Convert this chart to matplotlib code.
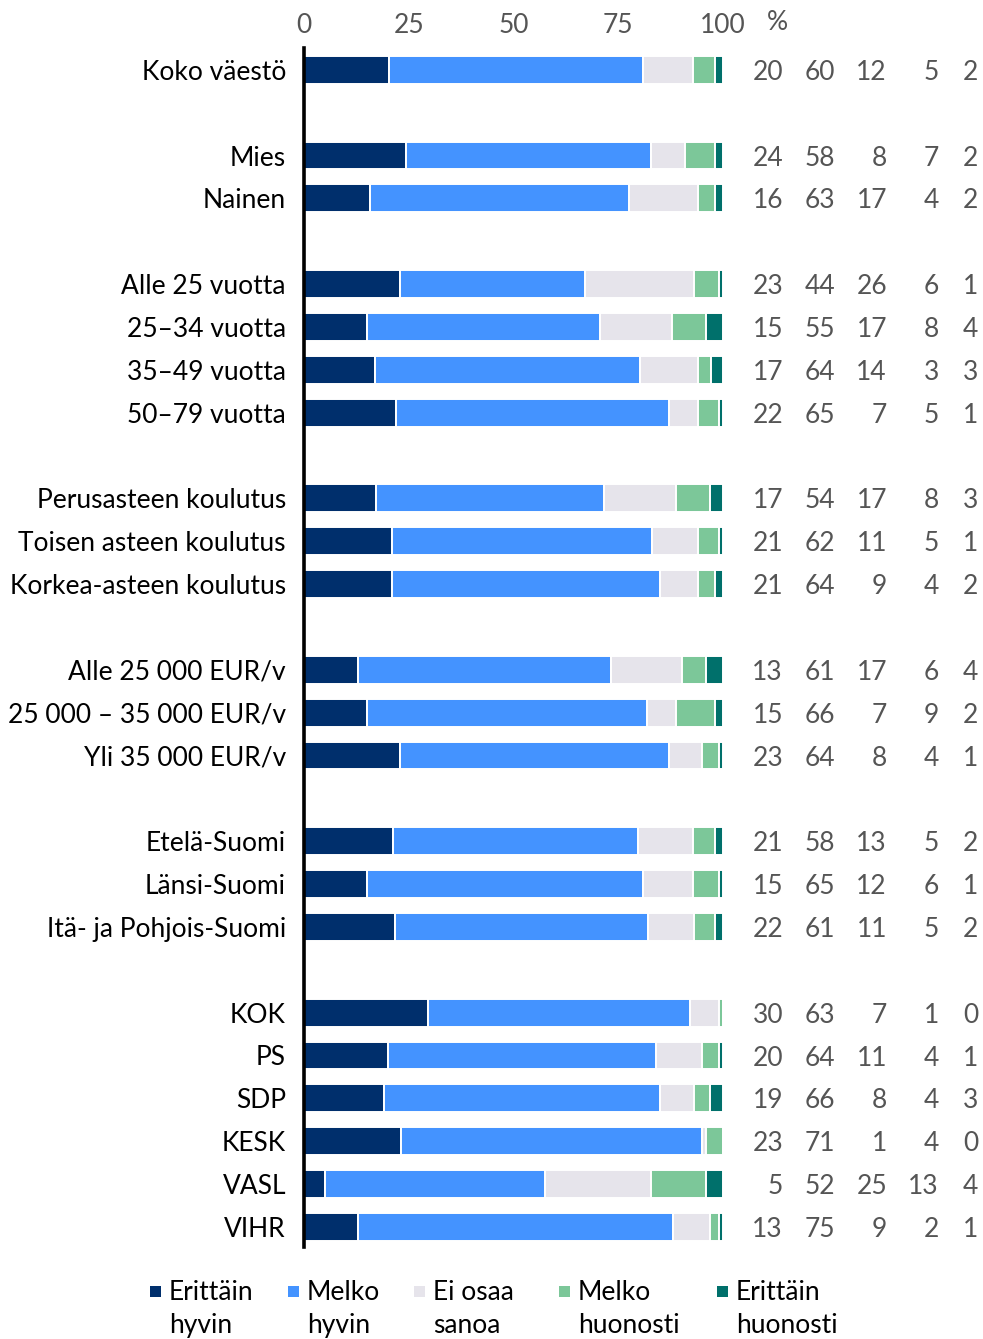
import matplotlib
matplotlib.use("Agg")
import matplotlib.pyplot as plt
from matplotlib.patches import Rectangle
from matplotlib.transforms import blended_transform_factory
import numpy as np

plt.rcParams['font.family'] = ['Lato', 'DejaVu Sans']

# groups of rows, None = empty spacer row
categories = ["Koko väestö", None,
              "Mies", "Nainen", None,
              "Alle 25 vuotta", "25–34 vuotta", "35–49 vuotta", "50–79 vuotta", None,
              "Perusasteen koulutus", "Toisen asteen koulutus", "Korkea-asteen koulutus", None,
              "Alle 25 000 EUR/v", "25 000 – 35 000 EUR/v", "Yli 35 000 EUR/v", None,
              "Etelä-Suomi", "Länsi-Suomi", "Itä- ja Pohjois-Suomi", None,
              "KOK", "PS", "SDP", "KESK", "VASL", "VIHR"]

erittain_hyvin = [20, 24, 16, 23, 15, 17, 22, 17, 21, 21, 13, 15, 23, 21, 15, 22, 30, 20, 19, 23, 5, 13]
melko_hyvin    = [60, 58, 63, 44, 55, 64, 65, 54, 62, 64, 61, 66, 64, 58, 65, 61, 63, 64, 66, 71, 52, 75]
ei_osaa        = [12, 8, 17, 26, 17, 14, 7, 17, 11, 9, 17, 7, 8, 13, 12, 11, 7, 11, 8, 1, 25, 9]
melko_huonosti = [5, 7, 4, 6, 8, 3, 5, 8, 5, 4, 6, 9, 4, 5, 6, 5, 1, 4, 4, 4, 13, 2]
erittain_huon  = [2, 2, 2, 1, 4, 3, 1, 3, 1, 2, 4, 2, 1, 2, 1, 2, 0, 1, 3, 0, 4, 1]

series_labels = ["Erittäin\nhyvin", "Melko\nhyvin", "Ei osaa\nsanoa", "Melko\nhuonosti", "Erittäin\nhuonosti"]
colors = ["#002F6C", "#4493FF", "#E6E4EB", "#7CC799", "#00706B"]
ticks = [0, 25, 50, 75, 100]

data = np.array([erittain_hyvin, melko_hyvin, ei_osaa, melko_huonosti, erittain_huon], dtype=float)
# bars are drawn as shares of the row total
shares = data / data.sum(axis=0) * 100

rows = [i for i, c in enumerate(categories) if c is not None]

fig = plt.figure(figsize=(9.83, 13.39), dpi=100)
W, H = 983, 1339
ax = fig.add_axes([304 / W, 1 - 1247 / H, 419 / W, (1247 - 48) / H])

left = np.zeros(len(rows))
for k in range(5):
    ax.barh(rows, shares[k], left=left, height=0.65, color=colors[k],
            edgecolor="white", linewidth=1.4)
    left += shares[k]

ax.set_xlim(0, 100)
ax.set_ylim(len(categories) - 0.53, -0.51)
ax.set_yticks(rows)
ax.set_yticklabels([c for c in categories if c is not None], fontsize=19, color="black")
ax.tick_params(axis="y", length=0, pad=13)
ax.xaxis.tick_top()
ax.set_xticks(ticks)
ax.set_xticklabels([str(t) for t in ticks], fontsize=19, color="#555555")
ax.tick_params(axis="x", length=0, pad=7)
for s in ["top", "right", "bottom"]:
    ax.spines[s].set_visible(False)
ax.spines["left"].set_linewidth(2.6)
ax.spines["left"].set_color("black")

# value columns on the right
trans = blended_transform_factory(fig.transFigure, ax.transData)
col_x = [783, 835, 887, 939, 978]
for k in range(5):
    xf = col_x[k] / W
    for j, r in enumerate(rows):
        ax.text(xf, r + 0.06, str(int(data[k, j])), transform=trans,
                ha="right", va="center", fontsize=19, color="#555555")
fig.text(777 / W, 1 - 23 / H, "%", ha="center", va="center", fontsize=19, color="#555555")

# legend
leg_x = [150, 288, 414, 559, 717]
for k in range(5):
    fig.patches.append(Rectangle(((leg_x[k]) / W, 1 - 1297 / H), 11 / W, 11 / H,
                                 transform=fig.transFigure, facecolor=colors[k], edgecolor="none"))
    fig.text((leg_x[k] + 19) / W, 1 - 1280 / H, series_labels[k], ha="left", va="top",
             fontsize=19, color="black", linespacing=1.4)

fig.savefig("out.png", dpi=100, facecolor="white")
